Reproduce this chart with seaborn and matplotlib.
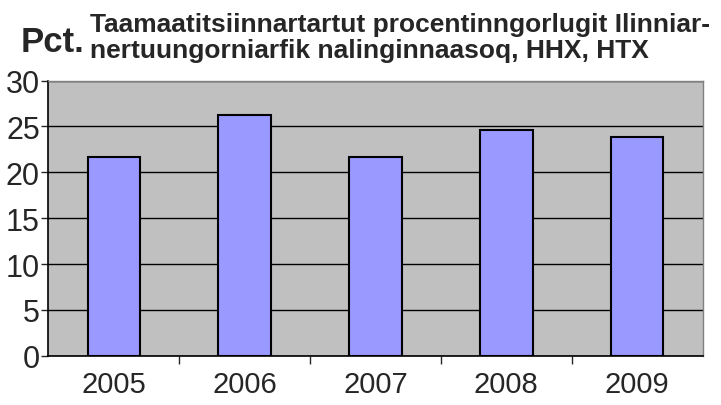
import matplotlib
matplotlib.use("Agg")
import matplotlib.pyplot as plt
import seaborn as sns
import pandas as pd
from matplotlib.ticker import FixedLocator

years = ["2005", "2006", "2007", "2008", "2009"]
values = [21.7, 26.2, 21.7, 24.6, 23.8]
y_ticks = [0, 5, 10, 15, 20, 25, 30]

sns.set_style("white")
plt.rcParams["font.family"] = ["Liberation Sans", "DejaVu Sans"]

df = pd.DataFrame({"year": years, "pct": values})

fig = plt.figure(figsize=(7.21, 4.06), dpi=100)
ax = fig.add_axes([0.067, 0.1214, 0.9076, 0.6776])
ax.set_facecolor("#C0C0C0")

sns.barplot(data=df, x="year", y="pct", color="#9999FF", edgecolor="black",
            linewidth=1.5, width=0.4, saturation=1, ax=ax, zorder=3)

ax.set_ylim(0, 30)
ax.set_xlim(-0.5, len(years) - 0.5)
ax.set_yticks(y_ticks)
ax.yaxis.grid(True, color="black", linewidth=1)
ax.set_axisbelow(True)
ax.set_xlabel("")
ax.set_ylabel("")

ax.tick_params(axis="y", labelsize=22, length=5, width=1, pad=1, direction="out", left=True)
ax.tick_params(axis="x", which="major", labelsize=21, length=0, pad=10)
ax.xaxis.set_minor_locator(FixedLocator([i + 0.5 for i in range(len(years) - 1)]))
ax.tick_params(axis="x", which="minor", length=6, width=1, direction="out", bottom=True)

for side in ["left", "bottom"]:
    ax.spines[side].set_color("black")
    ax.spines[side].set_linewidth(1.2)
for side in ["top", "right"]:
    ax.spines[side].set_visible(True)
    ax.spines[side].set_color("#808080")
    ax.spines[side].set_linewidth(1)

fig.text(0.028, 0.872, "Pct.", fontsize=25, fontweight="bold", ha="left", va="baseline")
fig.text(0.125, 0.921, "Taamaatitsiinnartartut procentinngorlugit Ilinniar-",
         fontsize=19, fontweight="bold", ha="left", va="baseline")
fig.text(0.125, 0.857, "nertuungorniarfik nalinginnaasoq, HHX, HTX",
         fontsize=19, fontweight="bold", ha="left", va="baseline")

fig.savefig("out.png", dpi=100)
